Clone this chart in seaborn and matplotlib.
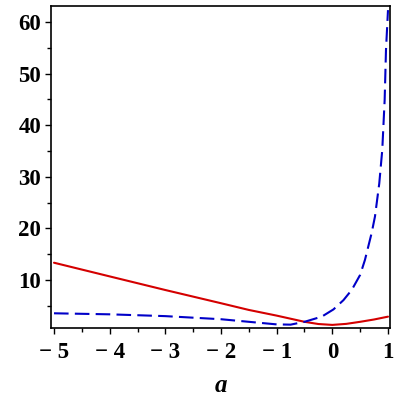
import numpy as np
import pandas as pd
import matplotlib
matplotlib.use("Agg")
import matplotlib.pyplot as plt
import seaborn as sns
from matplotlib.ticker import MultipleLocator

a_red = [-5, -4, -3, -2, -1.5, -1, -0.5, -0.25, 0, 0.25, 0.5, 0.75, 1]
y_red = [13.35, 10.7, 8.06, 5.5, 4.2, 3.1, 1.9, 1.47, 1.3, 1.5, 1.9, 2.35, 2.9]

a_blue = [-5, -4, -3, -2, -1.5, -1, -0.75, -0.5, -0.19, 0.02, 0.2, 0.35, 0.5, 0.586,
          0.646, 0.706, 0.766, 0.843, 0.897, 0.94, 0.964, 1.0]
y_blue = [3.55, 3.35, 3.0, 2.4, 1.9, 1.4, 1.35, 1.9, 2.9, 4.3, 6.1, 8.1, 11.0, 13.9,
          16.5, 19.1, 22.3, 28.7, 35.2, 44.9, 54.6, 62.3]

sns.set_style("white")
plt.rcParams['font.family'] = ['Liberation Serif', 'DejaVu Serif']

fig = plt.figure(figsize=(4, 4), dpi=100)
ax = fig.add_axes([0.1275, 0.18, 0.8475, 0.805])

df_red = pd.DataFrame({"a": a_red, "y": y_red})
df_blue = pd.DataFrame({"a": a_blue, "y": y_blue})
sns.lineplot(data=df_red, x="a", y="y", ax=ax, color="#d40000", linewidth=1.5)
sns.lineplot(data=df_blue, x="a", y="y", ax=ax, color="#0000c8", linewidth=1.5,
             linestyle=(0, (7, 3)))

ax.set_xlim(-5.054, 1.036)
ax.set_ylim(0.7, 63.1)
ax.xaxis.set_minor_locator(MultipleLocator(0.5))
ax.yaxis.set_minor_locator(MultipleLocator(5))
ax.set_yticks([10, 20, 30, 40, 50, 60])
ax.set_xticks([-5, -4, -3, -2, -1, 0, 1])
ax.set_xticklabels(["\u2212 5", "\u2212 4", "\u2212 3", "\u2212 2", "\u2212 1", "0", "1"])
ax.tick_params(axis='both', which='major', direction='out', length=4, width=1,
               labelsize=16.5, labelcolor='black', color='black',
               bottom=True, left=True, top=False, right=False)
ax.tick_params(axis='x', which='major', pad=6)
ax.tick_params(axis='y', which='major', pad=3)
ax.tick_params(axis='both', which='minor', direction='out', length=3, width=1,
               color='black', bottom=True, left=True, top=False, right=False)
for lab in ax.get_xticklabels() + ax.get_yticklabels():
    lab.set_fontweight('bold')
for s in ax.spines.values():
    s.set_color('black')
    s.set_linewidth(1.2)
ax.set_ylabel("")
ax.set_xlabel("a", fontsize=18, fontstyle='italic', fontweight='bold',
              color='black', labelpad=8)

fig.savefig("out.png", dpi=100)
